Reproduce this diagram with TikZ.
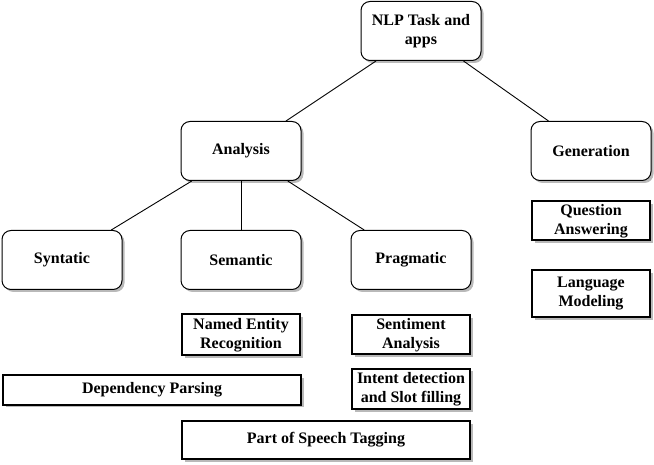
\documentclass[tikz,border=0pt]{standalone}
\usepackage{fontspec}
\setmainfont{Liberation Serif}
\usetikzlibrary{shadows}

\begin{document}
\begin{tikzpicture}[
    x=1pt,y=-1pt,
    task/.style={draw=black,line width=1pt,fill=white,rounded corners=9pt,
                 minimum width=120pt,minimum height=59pt,align=center,
                 font=\fontsize{16}{19}\selectfont\bfseries,
                 drop shadow={shadow xshift=2.5pt,shadow yshift=-2.5pt,fill=gray!55,opacity=1}},
    leaf/.style={draw=black,line width=2pt,fill=white,inner sep=0pt,align=center,
                 font=\fontsize{16}{19}\selectfont\bfseries,
                 drop shadow={shadow xshift=2.5pt,shadow yshift=-2.5pt,fill=gray!55,opacity=1}},
    link/.style={draw=black,line width=0.9pt},
  ]
    \useasboundingbox (0,0) rectangle (654,465);

    % Tree
    \node[task] (nlp)  at (421,31)  {NLP Task and\\apps};
    \node[task] (ana)  at (241,151) {Analysis};
    \node[task] (gen)  at (591,151) {Generation};
    \node[task] (syn)  at (62,260)  {Syntatic};
    \node[task] (sem)  at (241,260) {Semantic};
    \node[task] (prag) at (411,260) {Pragmatic};

    % Links
    \draw[link] (nlp) -- (ana);
    \draw[link] (nlp) -- (gen);
    \draw[link] (ana) -- (syn);
    \draw[link] (ana) -- (sem);
    \draw[link] (ana) -- (prag);

    % Applications
    \node[leaf,minimum width=118pt,minimum height=39pt] (qa)   at (591,221)   {Question\\Answering};
    \node[leaf,minimum width=118pt,minimum height=47pt] (lm)   at (591,294)   {Language\\Modeling};
    \node[leaf,minimum width=118pt,minimum height=41pt] (ner)  at (241,335)   {Named Entity\\Recognition};
    \node[leaf,minimum width=118pt,minimum height=39pt] (sent) at (411,335)   {Sentiment\\Analysis};
    \node[leaf,minimum width=118pt,minimum height=40pt] (ids)  at (411,389)   {Intent detection\\and Slot filling};
    \node[leaf,minimum width=298pt,minimum height=29pt] (dep)  at (152,390)   {Dependency Parsing};
    \node[leaf,minimum width=288pt,minimum height=38pt] (pos)  at (326,440)   {Part of Speech Tagging};

\end{tikzpicture}
\end{document}
